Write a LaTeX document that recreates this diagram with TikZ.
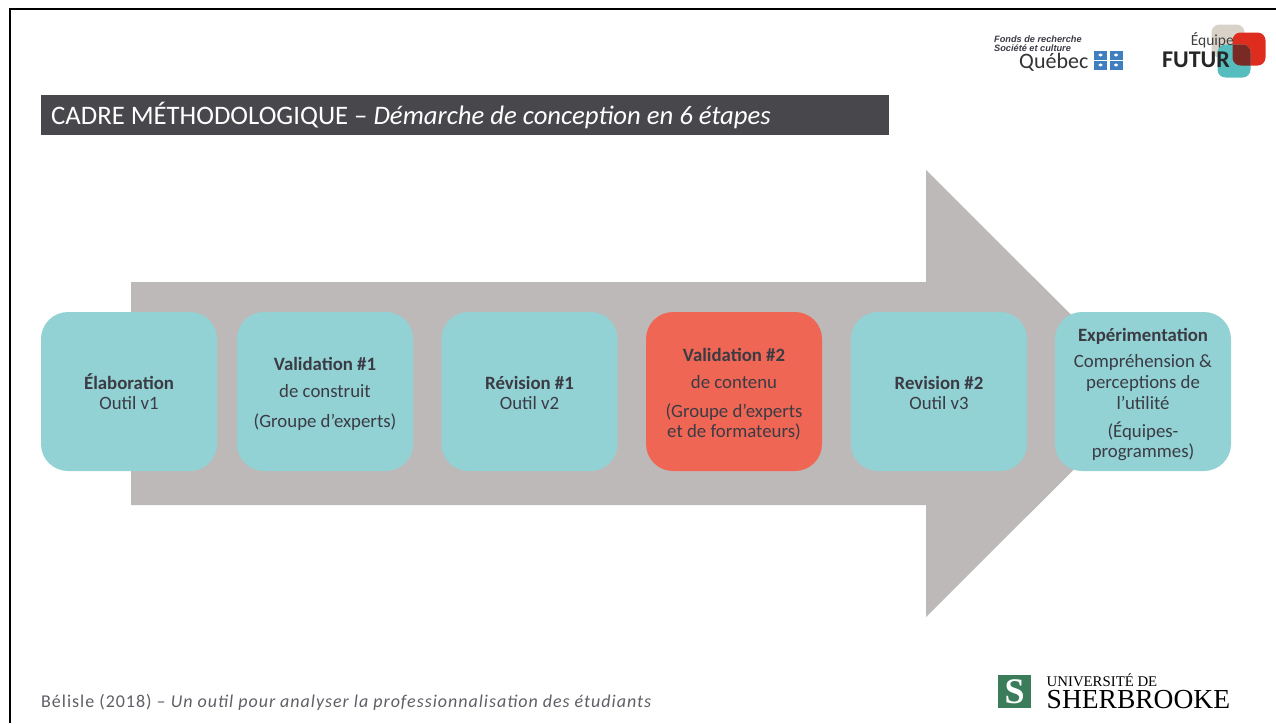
\documentclass[tikz,border=0pt]{standalone}
\usepackage{fontspec}
\usetikzlibrary{shapes.geometric}
\setmainfont{Carlito}
\newfontfamily\logofont{Liberation Sans}
\newfontfamily\univfont{Liberation Serif}
\definecolor{step teal}{HTML}{92D2D4}
\definecolor{step red}{HTML}{EF6655}
\definecolor{arrow grey}{HTML}{BDB9B8}
\definecolor{title bar}{HTML}{48474C}
\definecolor{step text}{HTML}{3B3B44}
\definecolor{foot text}{HTML}{5F5F66}
\definecolor{qc blue}{HTML}{3F7FBF}
\definecolor{udes green}{HTML}{3B7D5A}
\definecolor{logo grey}{HTML}{D9D2C8}
\definecolor{logo red}{HTML}{DE2C1F}
\definecolor{logo teal}{HTML}{55BDBE}
\definecolor{logo dark}{HTML}{7A2A24}
\tikzset{
  stepbox/.style={rounded corners=27pt, fill=step teal, minimum width=176pt, minimum height=159pt, inner sep=0pt, text=step text, align=center, font=\fontsize{18.8}{20.8}\selectfont},
  redbox/.style={stepbox, fill=step red},
  logosquare/.style={rounded corners=8pt, minimum size=33pt, inner sep=0pt}
  }
\tikzstyle{frameline} = [draw, black, line width=2.5pt]
\begin{document}
\begin{tikzpicture}[x=1pt,y=-1pt]
  \useasboundingbox (0,0) rectangle (1276,723);
  \fill[white] (0,0) rectangle (1276,723);
  \draw[frameline] (10,723) -- (10,9) -- (1276,9);

  % title
  \node[fill=title bar, minimum width=848pt, minimum height=40pt, inner sep=0pt] (titlebar) at (465,115) {};
  \node[anchor=west, text=white, font=\fontsize{26.7}{28}\selectfont, inner sep=0pt] (title) at (51,115.5) {CADRE MÉTHODOLOGIQUE – \textit{Démarche de conception en 6 étapes}};

  % arrow
  \fill[arrow grey] (131,282) -- (926,282) -- (926,170) -- (1150,393.5) -- (926,617) -- (926,505) -- (131,505) -- cycle;

  % steps
  \foreach \pos/\name/\style/\gap/\txt in {
      {(129,391.5)/elab/stepbox/16pt/{\textbf{Élaboration}\\Outil v1}},
      {(325,391.5)/valid/stepbox/18pt/{\textbf{Validation \#1}\\[6pt]de construit\\[8.5pt](Groupe d’experts)}},
      {(529.5,391.5)/revis/stepbox/16pt/{\textbf{Révision \#1}\\Outil v2}},
      {(734,391.5)/validb/redbox/19pt/{\textbf{Validation \#2}\\[6pt]de contenu\\[8pt](Groupe d’experts\\et de formateurs)}},
      {(939,391.5)/revisb/stepbox/16pt/{\textbf{Revision \#2}\\Outil v3}},
      {(1143,391.5)/exper/stepbox/20pt/{\textbf{Expérimentation}\\[5pt]Compréhension \&\\perceptions de\\l’utilité\\[7pt](Équipes-\\programmes)}}} {
    \node[\style] (\name) at \pos {\rule{0pt}{\gap}\txt};
  }

  % footer
  \node[anchor=west, text=foot text, inner sep=0pt, font=\fontsize{18}{20}\selectfont\addfontfeature{LetterSpace=5.5}] (foot) at (41,702.5) {Bélisle (2018) – \textit{Un outil pour analyser la professionnalisation des étudiants}};

  % logo frq
  \node[anchor=west, inner sep=0pt, align=left, text=step text, font=\logofont\bfseries\itshape\fontsize{9.2}{9.2}\selectfont] (frq) at (994,43.5) {Fonds de recherche\\Société et culture};
  \node[anchor=west, inner sep=0pt, text=black!80, font=\fontsize{22}{24}\selectfont] (quebec) at (1019,62.5) {Québec};
  \foreach \pos/\name in {{(1100.5,55)/qa}, {(1116,55)/qb}, {(1100.5,65)/qc}, {(1116,65)/qd}} {
    \node[fill=qc blue, minimum width=13pt, minimum height=9pt, inner sep=0pt] (\name) at \pos {};
    \node[fill=white, diamond, aspect=1.4, inner sep=1pt] at \pos {};
  }

  % logo futur
  \node[logosquare, fill=logo grey] (sqgrey) at (1228,41) {};
  \node[logosquare, fill=logo red] (sqred) at (1249,49) {};
  \node[logosquare, fill=logo teal] (sqteal) at (1234,61) {};
  \begin{scope}
    \clip[rounded corners=8pt] (1217.5,44.5) rectangle (1250.5,77.5);
    \fill[logo dark, rounded corners=8pt] (1232.5,32.5) rectangle (1265.5,65.5);
  \end{scope}
  \node[anchor=east, inner sep=0pt, text=black!75, font=\fontsize{15.5}{16}\selectfont] (equipe) at (1234,40) {Équipe};
  \node[anchor=east, inner sep=0pt, text=black!85, font=\bfseries\fontsize{24}{25}\selectfont] (futur) at (1230,60) {FUTUR};

  % logo udes
  \node[fill=udes green, minimum size=33pt, inner sep=0pt, text=white, font=\univfont\bfseries\fontsize{36}{36}\selectfont] (udes) at (1014.5,691.5) {S};
  \node[anchor=west, inner sep=0pt, font=\univfont\fontsize{14.8}{16}\selectfont] (univ) at (1046.5,680) {UNIVERSITÉ DE};
  \node[anchor=west, inner sep=0pt, font=\univfont\fontsize{27.5}{28}\selectfont] (sherb) at (1046.5,699.5) {SHERBROOKE};
\end{tikzpicture}
\end{document}
